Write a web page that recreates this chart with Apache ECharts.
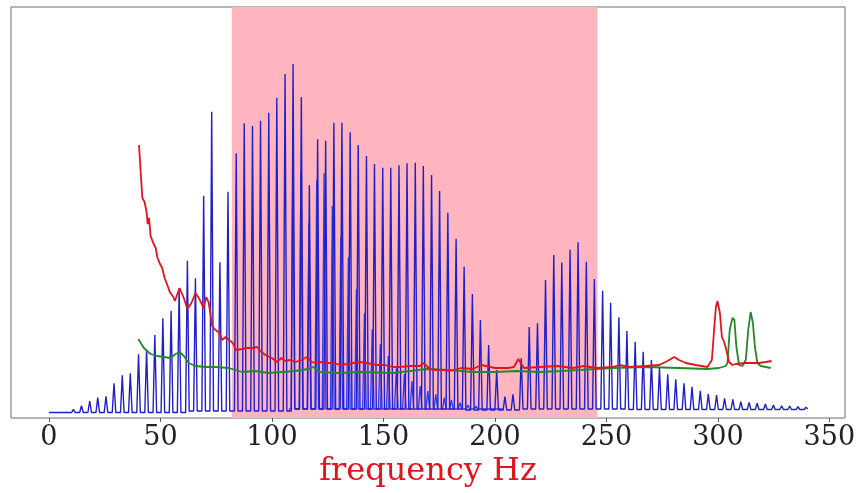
<!DOCTYPE html>
<html>
<head>
<meta charset="utf-8">
<script src="https://cdn.jsdelivr.net/npm/echarts@6/dist/echarts.min.js"></script>
<style>
  html, body { margin: 0; padding: 0; background: #fff; }
  #chart { width: 863px; height: 493px; }
</style>
</head>
<body>
<div id="chart"></div>
<script>
// x range and ticks (Hz)
const X_MIN = -17;
const X_MAX = 357;
const Y_MAX = 411;
const xTicks = [0, 50, 100, 150, 200, 250, 300, 350];
const bandHz = [82, 246];

// blue spectrum: harmonic peaks (Hz) and their heights
const blueHz = [
  3.7, 7.3, 11.0, 14.6, 18.3, 21.9, 25.6, 29.2, 32.9, 36.5,
  40.2, 43.8, 47.5, 51.1, 54.8, 58.4, 62.1, 65.7, 69.4, 73.0,
  76.7, 80.3, 84.0, 87.6, 91.3, 94.9, 98.6, 102.2, 105.9, 109.5,
  113.2, 116.8, 120.5, 124.1, 127.8, 131.4, 135.1, 138.7, 142.4, 146.0,
  149.7, 153.3, 157.0, 160.6, 164.3, 167.9, 171.6, 175.2, 178.9, 182.6,
  186.2, 189.9, 193.5, 197.2, 200.8, 204.5, 208.1, 211.8, 215.4, 219.1,
  222.7, 226.4, 230.0, 233.7, 237.3, 241.0, 244.6, 248.3, 251.9, 255.6,
  259.2, 262.9, 266.5, 270.2, 273.8, 277.5, 281.1, 284.8, 288.4, 292.1,
  295.7, 299.4, 303.0, 306.7, 310.3, 314.0, 317.6, 321.3, 324.9, 328.6,
  332.2, 335.9, 339.5
];
const blueAmp = [
  6.5, 7.3, 8.7, 12.3, 17, 20.3, 21.7, 34.7, 42.7, 44.7,
  63.7, 68, 83, 99.7, 107.3, 129.7, 157.3, 139.7, 222.3, 306.3,
  155.7, 226.3, 264.7, 294.7, 292, 297.3, 305.3, 320.3, 344, 354,
  321, 233, 278.7, 277.3, 295.3, 295.3, 285.7, 273, 262, 254,
  250.3, 250.3, 252.7, 254.7, 255.3, 252, 243, 227, 205.3, 179.3,
  151.3, 124, 98, 73, 48, 21.3, 23.7, 59.7, 91, 94.7,
  138, 163, 155.5, 168.3, 175.7, 156.3, 139, 127.3, 115.3, 100.7,
  87, 76.3, 66.3, 58, 50.3, 43.7, 38.7, 34.7, 31.3, 27.3,
  24, 23, 19.7, 18.7, 16.3, 15.7, 14.7, 14, 13, 12.3,
  12, 11.3, 10.7
];
// level of the troughs around each peak (one more than peaks)
const blueValley = [
  5.5, 5.5, 5.5, 5.5, 5.5, 5.5, 5.5, 5.5, 5.5, 5.5,
  5.5, 5.5, 5.5, 5.5, 5.5, 5.5, 5.5, 7, 7, 7,
  7, 7, 7, 7, 7, 7, 7, 7, 7, 7,
  9, 9, 9, 9, 9, 9, 9, 9, 9, 9,
  9, 9, 9, 9, 9, 9, 9, 9, 9, 9,
  9, 8, 8, 8, 8, 8, 8, 8, 9, 9,
  9, 9, 9, 9, 9, 9, 9, 9, 9, 9,
  9, 8.5, 8.5, 8.5, 8.5, 8.5, 8.5, 8.5, 8.5, 8.5,
  8.5, 8.5, 8.5, 8.5, 8.5, 8.5, 8.5, 8.5, 8.5, 8.5,
  8.5, 8.5, 8.5, 9
];

// second, slightly detuned blue comb (visible 105-200 Hz)
const blue2Hz = [
  109.4, 113.0, 116.6, 120.1, 123.4, 127.1, 130.9, 134.3, 137.9, 141.5,
  145.0, 148.6, 152.2, 155.8, 159.4, 162.8, 166.5, 169.9, 173.5, 177.3,
  180.5, 184.3, 187.9, 191.5, 195.1, 198.7, 202.3
];
const blue2Amp = [
  261.3, 246.3, 195.3, 238, 244.7, 212, 181, 160.7, 128.7, 104.7,
  88.7, 73.7, 62, 49.7, 44, 37, 32, 27, 23.7, 20.3,
  18, 15.3, 13, 11.5, 10.5, 10, 9.5
];
const blue2Valley = [
  9, 9, 9, 9, 9, 9, 9, 9, 9, 9,
  9, 9, 9, 9, 9, 9, 9, 9, 9, 9,
  9, 9, 9, 9, 9, 9, 9, 9
];

// red curve
const redHz = [
  40.4, 41.1, 41.9, 42.9, 43.8, 44.3, 44.9, 45.6, 46.8, 47.9,
  48.6, 49.6, 50.8, 51.9, 53.1, 54.2, 55.8, 56.5, 57.6, 58.6,
  60.5, 62.1, 63.9, 65.7, 67.5, 69.3, 70.6, 71.7, 73.2, 74.7,
  76.5, 77.7, 79.2, 80.7, 82.5, 83.9, 86.6, 88.8, 91.4, 93.3,
  95.3, 97.1, 100.0, 102.3, 104.2, 106.0, 108.2, 110.5, 113.4, 115.7,
  117.9, 119.4, 121.6, 124.6, 127.6, 130.6, 133.6, 136.5, 139.5, 142.5,
  147.0, 150.7, 154.4, 157.4, 161.9, 166.4, 167.8, 170.9, 173.8, 176.8,
  179.8, 185, 190, 194, 200, 206, 208.5, 210.5, 213, 220,
  228, 235, 240, 245.4, 252.8, 255.8, 260.3, 267.8, 273.7, 277.4,
  280.4, 282.6, 285.6, 290.1, 295.3, 297.3, 298.3, 299.1, 299.8, 300.9,
  301.8, 302.8, 303.8, 305.0, 306.5, 308, 312.5, 318.4, 321.4, 324.1
];
const redAmp = [
  273, 248, 220, 216, 206, 194, 200, 182, 175, 170,
  161, 155, 150, 140, 133, 126, 121, 117, 124, 130,
  120, 109, 115, 125, 119, 110, 121, 115, 92, 88,
  85, 78, 81, 78, 75, 68, 69, 70, 70, 71,
  66, 63, 60, 56, 60, 57, 58, 56, 58, 61,
  56, 55, 56, 55, 55, 53, 54, 55, 56, 55,
  53, 53, 51, 51, 52, 52, 55, 49, 48, 48,
  47, 50, 49, 53, 50, 50, 51, 59, 50, 51,
  52, 50, 52, 50, 51, 53, 51, 52, 53, 57,
  61, 58, 55, 53, 51, 58, 88, 111, 117, 105,
  81, 76, 68, 56, 53, 54, 55, 55, 56, 57
];

// green curve
const greenHz = [
  40.1, 42.6, 45.6, 48.6, 51.6, 54.6, 56.8, 58.6, 60.5, 62.7,
  65.7, 70.2, 74.7, 80.6, 86.6, 92.6, 98.5, 104.5, 110.5, 116.4,
  118.6, 121.6, 129.1, 139.5, 154.4, 162, 169.4, 179.8, 190, 200,
  210, 220, 230, 237.9, 252.7, 267.8, 282.6, 295.2, 300.5, 303.5,
  304.3, 305.3, 306.5, 307.4, 308.3, 309.5, 311, 312.5, 313.6, 314.7,
  315.7, 316.6, 317.7, 319.2, 323.7
];
const greenAmp = [
  79, 70, 64, 62, 61, 60, 64, 66, 62, 55,
  52, 51, 51, 50, 46, 47, 45, 46, 47, 49,
  51, 46, 45, 46, 45, 47, 49, 48, 46, 46,
  47, 46, 47, 48, 50, 51, 50, 49, 50, 52,
  55, 88, 100, 98, 71, 53, 52, 58, 88, 106,
  95, 71, 55, 52, 50
];

const SPIKE_HALF_WIDTH = 0.8; // Hz, drawing width of a harmonic peak

function spikeLine(hz, amp, valley, startHz, endHz) {
  const pts = [[startHz, valley[0]]];
  hz.forEach((f, i) => {
    pts.push([f - SPIKE_HALF_WIDTH, valley[i]]);
    pts.push([f, amp[i]]);
    pts.push([f + SPIKE_HALF_WIDTH, valley[i + 1]]);
  });
  pts.push([endHz, valley[valley.length - 1]]);
  return pts;
}

function zip(xs, ys) {
  return xs.map((x, i) => [x, ys[i]]);
}

const chart = echarts.init(document.getElementById('chart'), null, { renderer: 'canvas' });

chart.setOption({
  animation: false,
  backgroundColor: '#ffffff',
  grid: {
    left: 11, right: 18, top: 7, bottom: 75,
    show: true,
    borderColor: '#6e6e6e',
    borderWidth: 1,
    backgroundColor: 'transparent'
  },
  xAxis: {
    type: 'value',
    min: X_MIN,
    max: X_MAX,
    name: 'frequency Hz',
    nameLocation: 'middle',
    nameGap: 38,
    nameTextStyle: {
      color: '#e3141e',
      fontFamily: 'DejaVu Serif',
      fontSize: 32
    },
    axisLine: { show: false },
    axisTick: {
      show: true,
      customValues: xTicks,
      length: 4,
      lineStyle: { color: '#555', width: 1 }
    },
    axisLabel: {
      customValues: xTicks,
      color: '#222',
      fontFamily: 'DejaVu Serif',
      fontSize: 27,
      margin: 6
    },
    splitLine: { show: false }
  },
  yAxis: {
    type: 'value',
    min: 0,
    max: Y_MAX,
    show: false
  },
  series: [
    {
      name: 'band',
      type: 'line',
      data: [],
      z: 1,
      silent: true,
      markArea: {
        silent: true,
        itemStyle: { color: '#ffb5bf' },
        data: [[{ xAxis: bandHz[0] }, { xAxis: bandHz[1] }]]
      }
    },
    {
      name: 'blue2',
      type: 'line',
      z: 3,
      showSymbol: false,
      data: spikeLine(blue2Hz, blue2Amp, blue2Valley, blue2Hz[0] - 1.8, blue2Hz[blue2Hz.length - 1] + 1.8),
      lineStyle: { color: '#1f3cff', width: 1.3 }
    },
    {
      name: 'blue',
      type: 'line',
      z: 4,
      showSymbol: false,
      data: spikeLine(blueHz, blueAmp, blueValley, 0, 340),
      lineStyle: { color: '#2020c8', width: 1.4 }
    },
    {
      name: 'green',
      type: 'line',
      z: 5,
      showSymbol: false,
      data: zip(greenHz, greenAmp),
      lineStyle: { color: '#23882a', width: 1.8 }
    },
    {
      name: 'red',
      type: 'line',
      z: 6,
      showSymbol: false,
      data: zip(redHz, redAmp),
      lineStyle: { color: '#e3141e', width: 1.8 }
    }
  ]
});
</script>
</body>
</html>
